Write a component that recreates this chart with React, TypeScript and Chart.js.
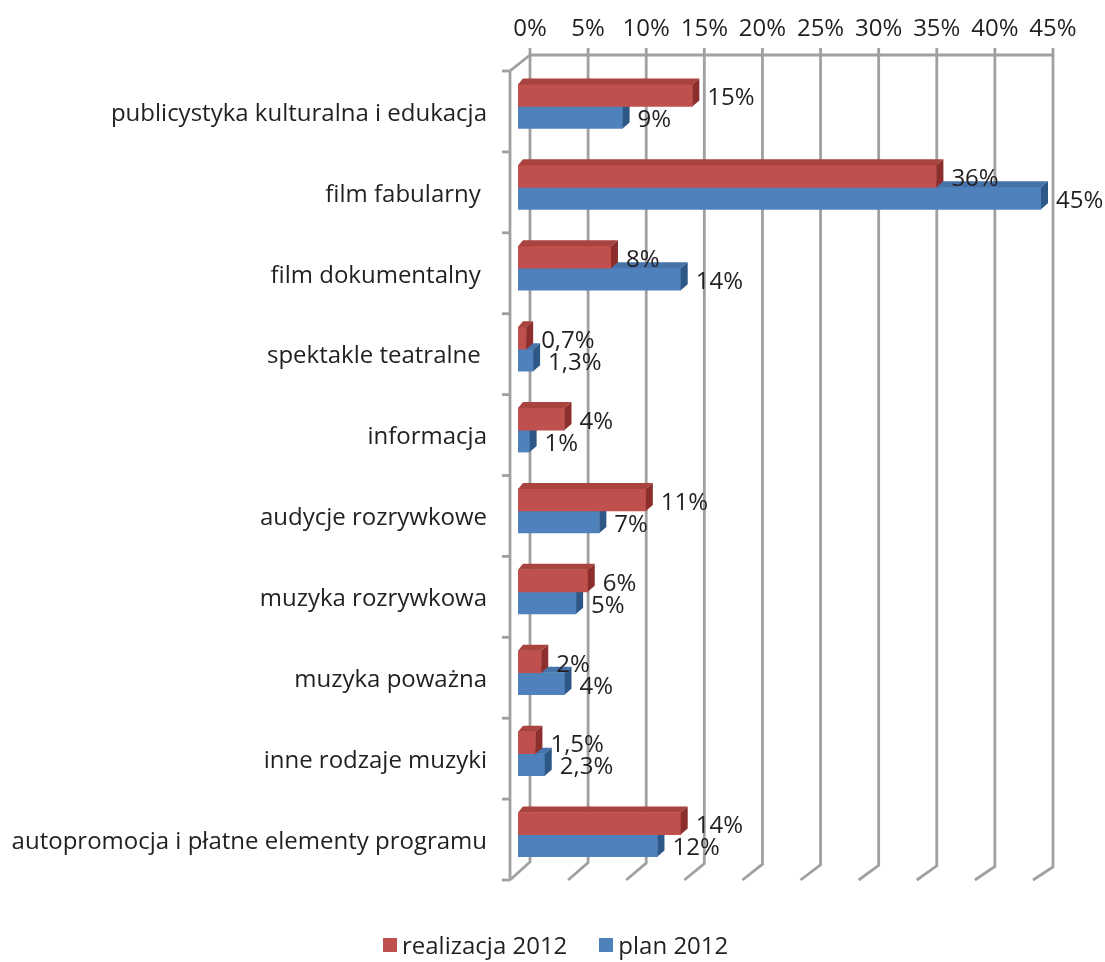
import React, { useEffect, useRef } from "react";
import { Chart, registerables } from "chart.js";

Chart.register(...registerables);

const categories = [
  "publicystyka kulturalna i edukacja",
  "film fabularny ",
  "film dokumentalny ",
  "spektakle teatralne ",
  "informacja",
  "audycje rozrywkowe",
  "muzyka rozrywkowa",
  "muzyka poważna",
  "inne rodzaje muzyki",
  "autopromocja i płatne elementy programu",
];
const realizacja2012 = [15, 36, 8, 0.7, 4, 11, 6, 2, 1.5, 14];
const plan2012 = [9, 45, 14, 1.3, 1, 7, 5, 4, 2.3, 12];
const seriesNames = ["realizacja 2012", "plan 2012"];
const xMin = 0;
const xMax = 45;
const xStep = 5;

const FONT = "'Open Sans', sans-serif";
const FS = 24;
const TEXT = "#231f20";
const GRID = "#a0a0a0";
const COLORS = [
  { front: "#C0504D", top: "#A9433F", side: "#8C2F2C" },
  { front: "#4F81BD", top: "#4673AA", side: "#2D5787" },
];

const fmt = (v: number) => String(v).replace(".", ",") + "%";

// 3D geometry constants (pixels)
const BACK_DX = 12; // back wall offset from bar plane
const FRONT_DX = -8; // front edge offset from bar plane
const BAR_DX = 7;
const BAR_DY = 6;

const wallsPlugin = {
  id: "walls3d",
  beforeDatasetsDraw(chart: any) {
    const { ctx, chartArea } = chart;
    const xs = chart.scales.x;
    const ys = chart.scales.y;
    const backTop = chartArea.top - 11;
    const backBottom = chartArea.bottom - 13;
    const frontTop = chartArea.top + 5;
    const frontBottom = chartArea.bottom + 5;
    ctx.save();
    ctx.strokeStyle = GRID;
    ctx.lineWidth = 2.8;
    ctx.lineCap = "butt";
    ctx.lineJoin = "miter";
    const x0 = xs.getPixelForValue(xMin);
    const x1 = xs.getPixelForValue(xMax);
    // top horizontal line of back wall
    ctx.beginPath();
    ctx.moveTo(x0 + BACK_DX, backTop);
    ctx.lineTo(x1 + BACK_DX, backTop);
    ctx.stroke();
    // vertical gridlines + floor slants
    for (let v = xMin; v <= xMax; v += xStep) {
      const bx = xs.getPixelForValue(v) + BACK_DX;
      const fx = xs.getPixelForValue(v) + FRONT_DX;
      const bb = backBottom + ((v - xMin) / (xMax - xMin)) * 5;
      ctx.beginPath();
      ctx.moveTo(bx, backTop - 7);
      ctx.lineTo(bx, bb);
      ctx.lineTo(fx, frontBottom);
      ctx.stroke();
    }
    // left wall
    const lx = x0 + FRONT_DX;
    ctx.beginPath();
    ctx.moveTo(x0 + BACK_DX, backTop);
    ctx.lineTo(lx, frontTop);
    ctx.lineTo(lx, frontBottom);
    ctx.stroke();
    // category ticks on left wall
    const n = categories.length;
    for (let k = 0; k <= n; k++) {
      const y =
        k < n
          ? ys.getPixelForValue(k) - (chartArea.bottom - chartArea.top) / n / 2 + 5
          : frontBottom;
      ctx.beginPath();
      ctx.moveTo(lx - 8, y);
      ctx.lineTo(lx, y);
      ctx.stroke();
    }
    ctx.restore();
  },
  afterDatasetDraw(chart: any, args: any) {
    const { ctx } = chart;
    const col = COLORS[args.index];
    ctx.save();
    args.meta.data.forEach((bar: any) => {
      const p = bar.getProps(["x", "y", "base", "height"], true);
      const top = p.y - p.height / 2;
      const bottom = p.y + p.height / 2;
      // top face
      ctx.fillStyle = col.top;
      ctx.beginPath();
      ctx.moveTo(p.base, top);
      ctx.lineTo(p.x, top);
      ctx.lineTo(p.x + BAR_DX, top - BAR_DY);
      ctx.lineTo(p.base + BAR_DX - 2, top - BAR_DY);
      ctx.closePath();
      ctx.fill();
      // side face
      ctx.fillStyle = col.side;
      ctx.beginPath();
      ctx.moveTo(p.x, top);
      ctx.lineTo(p.x + BAR_DX, top - BAR_DY);
      ctx.lineTo(p.x + BAR_DX, bottom - BAR_DY);
      ctx.lineTo(p.x, bottom);
      ctx.closePath();
      ctx.fill();
    });
    ctx.restore();
  },
  afterDatasetsDraw(chart: any) {
    const { ctx } = chart;
    ctx.save();
    ctx.font = `${FS}px ${FONT}`;
    ctx.fillStyle = TEXT;
    ctx.textAlign = "left";
    ctx.textBaseline = "middle";
    chart.data.datasets.forEach((ds: any, i: number) => {
      const meta = chart.getDatasetMeta(i);
      meta.data.forEach((bar: any, j: number) => {
        const p = bar.getProps(["x", "y"], true);
        ctx.fillText(fmt(ds.data[j]), p.x + 15, p.y + 3);
      });
    });
    ctx.restore();
  },
};

export default function App() {
  const ref = useRef<HTMLCanvasElement | null>(null);
  useEffect(() => {
    if (!ref.current) return;
    const chart = new Chart(ref.current, {
      type: "bar",
      data: {
        labels: categories,
        datasets: [
          {
            label: seriesNames[0],
            data: realizacja2012,
            backgroundColor: COLORS[0].front,
            borderWidth: 0,
            barThickness: 22,
          },
          {
            label: seriesNames[1],
            data: plan2012,
            backgroundColor: COLORS[1].front,
            borderWidth: 0,
            barThickness: 22,
          },
        ],
      },
      options: {
        indexAxis: "y",
        responsive: false,
        animation: false,
        layout: { padding: { left: 0, right: 1105 - 1041, top: 0, bottom: 962 - 875 } },
        plugins: {
          legend: { display: false },
          tooltip: { enabled: false },
        },
        scales: {
          x: {
            position: "top",
            min: xMin,
            max: xMax,
            ticks: {
              stepSize: xStep,
              callback: (v: any) => v + "%",
              labelOffset: 12,
              padding: 22,
              font: { family: FONT, size: FS },
              color: TEXT,
              maxRotation: 0,
              autoSkip: false,
            },
            grid: { display: false, drawTicks: false },
            border: { display: false },
            afterFit: (s: any) => {
              s.height = 66;
            },
          },
          y: {
            ticks: {
              labelOffset: 7.5,
              padding: 31,
              font: { family: FONT, size: FS },
              color: TEXT,
              autoSkip: false,
            },
            grid: { display: false, drawTicks: false },
            border: { display: false },
            afterFit: (s: any) => {
              s.width = 518;
            },
          },
        },
      } as any,
      plugins: [wallsPlugin],
    });
    return () => chart.destroy();
  }, []);

  const legendItem = (i: number, ml: number) => (
    <div style={{ display: "flex", alignItems: "center", marginLeft: ml }}>
      <span
        style={{
          display: "inline-block",
          width: 14,
          height: 14,
          background: COLORS[i].front,
          marginRight: 5,
        }}
      />
      <span>{seriesNames[i]}</span>
    </div>
  );

  return (
    <div style={{ position: "fixed", left: 0, top: 0, width: 1105, height: 962, background: "#fff" }}>
      <canvas ref={ref} width={1105} height={962} style={{ position: "absolute", left: 0, top: 0 }} />
      <div
        style={{
          position: "absolute",
          left: 383,
          top: 928,
          height: 34,
          display: "flex",
          alignItems: "center",
          fontFamily: FONT,
          fontSize: FS,
          color: TEXT,
          lineHeight: "34px",
        }}
      >
        {legendItem(0, 0)}
        {legendItem(1, 32)}
      </div>
    </div>
  );
}
